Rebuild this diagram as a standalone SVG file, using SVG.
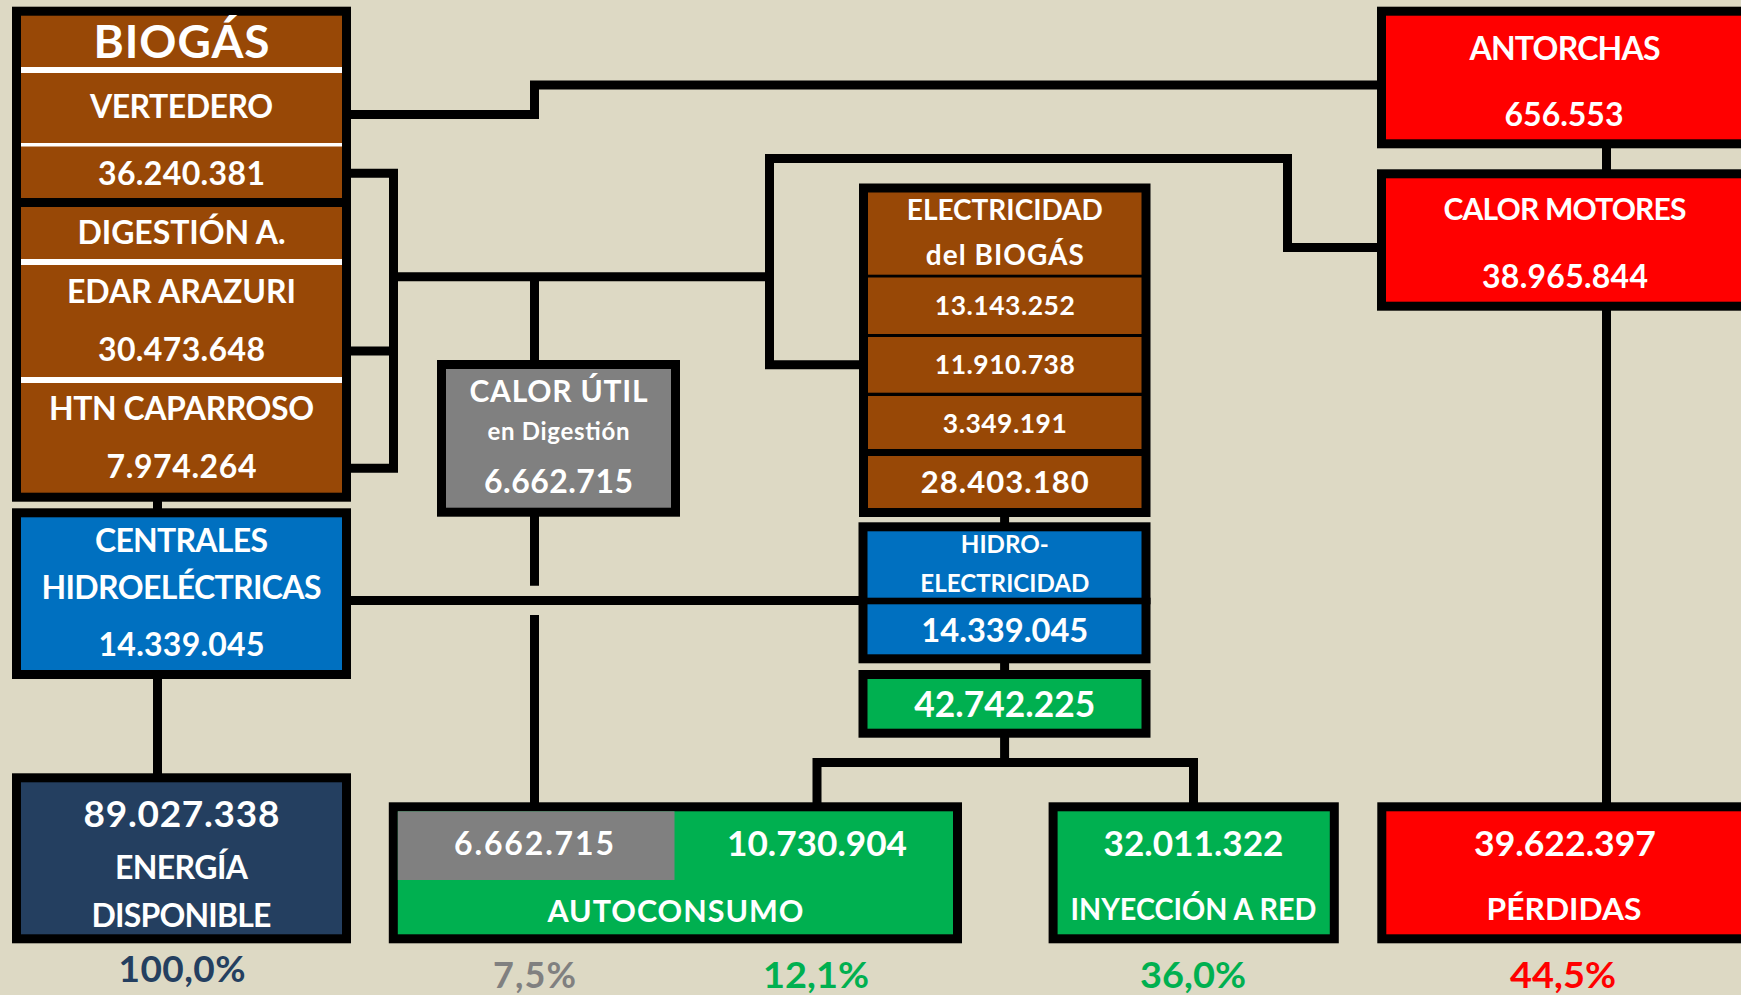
<svg xmlns="http://www.w3.org/2000/svg" width="1741" height="995" viewBox="0 0 1741 995">
<style>
.bx{stroke:#000;stroke-width:9}
.br{fill:#984806}.bl{fill:#0070C0}.nv{fill:#243F60}.gy{fill:#808080}.gr{fill:#00B050}.rd{fill:#FF0000}
text{font-family:Lato,"Open Sans","Liberation Sans",sans-serif;font-weight:700;text-anchor:middle;fill:#fff}
.c{fill:none;stroke:#000;stroke-width:9;stroke-linejoin:miter;stroke-linecap:butt}
.wl{fill:#fff}.kl{fill:#000}
</style>
<rect width="1741" height="995" fill="#DDD9C4"/>
<g id="connectors">
<polyline class="c" points="347,114.5 534.5,114.5 534.5,85 1382,85"/>
<path class="c" d="M347,173.3 H393.5 V468.3 H347 M347,351 H393.5 M393.5,276.8 H769.5"/>
<polyline class="c" points="863,364.7 769.5,364.7 769.5,158.5 1287.5,158.5 1287.5,247.5 1382,247.5"/>
<path class="c" d="M534.5,276.8 V364 M534.5,512 V585.7 M534.5,615 V807 M347,600.5 H863 M157.5,497 V512 M157.5,675 V778 M1004.6,513 V527 M1004.6,659 V675 M1004.6,733 V762.5 M817,807 V762.5 H1193.5 V807 M1606.5,144 V174 M1606.5,306 V807"/>
</g>
<g id="biogas">
<rect class="bx br" x="16.5" y="11.2" width="330" height="486"/>
<rect class="wl" x="21" y="67" width="321" height="6"/>
<rect class="wl" x="21" y="143" width="321" height="3.5"/>
<rect class="kl" x="12" y="198" width="339" height="9"/>
<rect class="wl" x="21" y="259" width="321" height="6"/>
<rect class="wl" x="21" y="377" width="321" height="6"/>
<text x="181.5" y="58" font-size="46" textLength="176">BIOGÁS</text>
<text x="181.5" y="118" font-size="32" textLength="183">VERTEDERO</text>
<text x="181.5" y="185" font-size="32" textLength="167">36.240.381</text>
<text x="181.5" y="244" font-size="32" textLength="208">DIGESTIÓN A.</text>
<text x="181.5" y="303" font-size="32" textLength="229">EDAR ARAZURI</text>
<text x="181.5" y="361" font-size="32" textLength="167">30.473.648</text>
<text x="181.5" y="420" font-size="32" textLength="265">HTN CAPARROSO</text>
<text x="181.5" y="478" font-size="32" textLength="150">7.974.264</text>
</g>
<g id="centrales">
<rect class="bx bl" x="16.5" y="512.8" width="330" height="161.7"/>
<text x="181.5" y="551.7" font-size="32" textLength="173">CENTRALES</text>
<text x="181.5" y="599.3" font-size="32" textLength="280">HIDROELÉCTRICAS</text>
<text x="181.5" y="656" font-size="32" textLength="166">14.339.045</text>
</g>
<g id="energia">
<rect class="bx nv" x="16.5" y="777.8" width="330" height="161"/>
<text x="181.5" y="826.7" font-size="37" textLength="196">89.027.338</text>
<text x="181.5" y="879.3" font-size="32" textLength="133">ENERGÍA</text>
<text x="181.5" y="927.3" font-size="32" textLength="180">DISPONIBLE</text>
<text x="182" y="982" font-size="37" textLength="127" style="fill:#243F60">100,0%</text>
</g>
<g id="calor-util">
<rect class="bx gy" x="441.5" y="364.5" width="234" height="147.7"/>
<text x="558.5" y="401.7" font-size="30" textLength="178">CALOR ÚTIL</text>
<text x="558.5" y="440" font-size="24" textLength="142">en Digestión</text>
<text x="558.5" y="493" font-size="32" textLength="149">6.662.715</text>
</g>
<g id="electricidad">
<rect class="bx br" x="863.5" y="188" width="282.5" height="324.5"/>
<rect class="kl" x="868" y="274.7" width="274" height="2.8"/>
<rect class="kl" x="868" y="334" width="274" height="3"/>
<rect class="kl" x="868" y="392.7" width="274" height="3.3"/>
<rect class="kl" x="868" y="449" width="274" height="7"/>
<text x="1004.8" y="220" font-size="28" textLength="196">ELECTRICIDAD</text>
<text x="1004.8" y="265" font-size="28" textLength="158">del BIOGÁS</text>
<text x="1004.8" y="315" font-size="26.5" textLength="140">13.143.252</text>
<text x="1004.8" y="374.3" font-size="26.5" textLength="140">11.910.738</text>
<text x="1004.8" y="433" font-size="26.5" textLength="124">3.349.191</text>
<text x="1004.8" y="493" font-size="31" textLength="168">28.403.180</text>
</g>
<g id="hidroelectricidad">
<rect class="bx bl" x="863" y="526.8" width="283" height="132"/>
<rect class="kl" x="858.5" y="597.7" width="292" height="6.6"/>
<text x="1004.8" y="553.3" font-size="25" textLength="88" lengthAdjust="spacingAndGlyphs">HIDRO-</text>
<text x="1004.8" y="592.3" font-size="25" textLength="169" lengthAdjust="spacingAndGlyphs">ELECTRICIDAD</text>
<text x="1004.8" y="641.7" font-size="32.5" textLength="167" lengthAdjust="spacingAndGlyphs">14.339.045</text>
</g>
<g id="total-electricidad">
<rect class="bx gr" x="863" y="674.5" width="283" height="58.7"/>
<text x="1004.8" y="716.7" font-size="36" textLength="181" lengthAdjust="spacingAndGlyphs">42.742.225</text>
</g>
<g id="autoconsumo">
<rect class="bx gr" x="393.3" y="806.8" width="564.2" height="132"/>
<rect class="gy" x="397.8" y="811.3" width="276.7" height="68.7"/>
<text x="534" y="855" font-size="32" textLength="160">6.662.715</text>
<text x="817" y="856" font-size="33.5" textLength="180" lengthAdjust="spacingAndGlyphs">10.730.904</text>
<text x="675.5" y="921.7" font-size="30.5" textLength="256">AUTOCONSUMO</text>
<text x="534.5" y="988" font-size="36" textLength="83" style="fill:#808080">7,5%</text>
<text x="816" y="988" font-size="36" textLength="106" lengthAdjust="spacingAndGlyphs" style="fill:#00B050">12,1%</text>
</g>
<g id="inyeccion">
<rect class="bx gr" x="1053.1" y="806.8" width="281.2" height="132"/>
<text x="1193.5" y="856" font-size="33.5" textLength="180" lengthAdjust="spacingAndGlyphs">32.011.322</text>
<text x="1193.5" y="920" font-size="30.5" textLength="246" lengthAdjust="spacingAndGlyphs">INYECCIÓN A RED</text>
<text x="1193" y="988" font-size="36" textLength="106" lengthAdjust="spacingAndGlyphs" style="fill:#00B050">36,0%</text>
</g>
<g id="perdidas">
<rect class="bx rd" x="1381.8" y="806.8" width="400" height="132"/>
<text x="1565" y="856" font-size="33.5" textLength="182" lengthAdjust="spacingAndGlyphs">39.622.397</text>
<text x="1564" y="920" font-size="30.5" textLength="155" lengthAdjust="spacingAndGlyphs">PÉRDIDAS</text>
<text x="1563" y="988" font-size="36" textLength="106" lengthAdjust="spacingAndGlyphs" style="fill:#FF0000">44,5%</text>
</g>
<g id="antorchas">
<rect class="bx rd" x="1381.5" y="11.2" width="400" height="132.6"/>
<text x="1565" y="60" font-size="32" textLength="191">ANTORCHAS</text>
<text x="1564" y="126" font-size="32" textLength="119">656.553</text>
</g>
<g id="calor-motores">
<rect class="bx rd" x="1381.5" y="173.8" width="400" height="132.4"/>
<text x="1565" y="220" font-size="30" textLength="243">CALOR MOTORES</text>
<text x="1565" y="288" font-size="32" textLength="166">38.965.844</text>
</g>
</svg>
